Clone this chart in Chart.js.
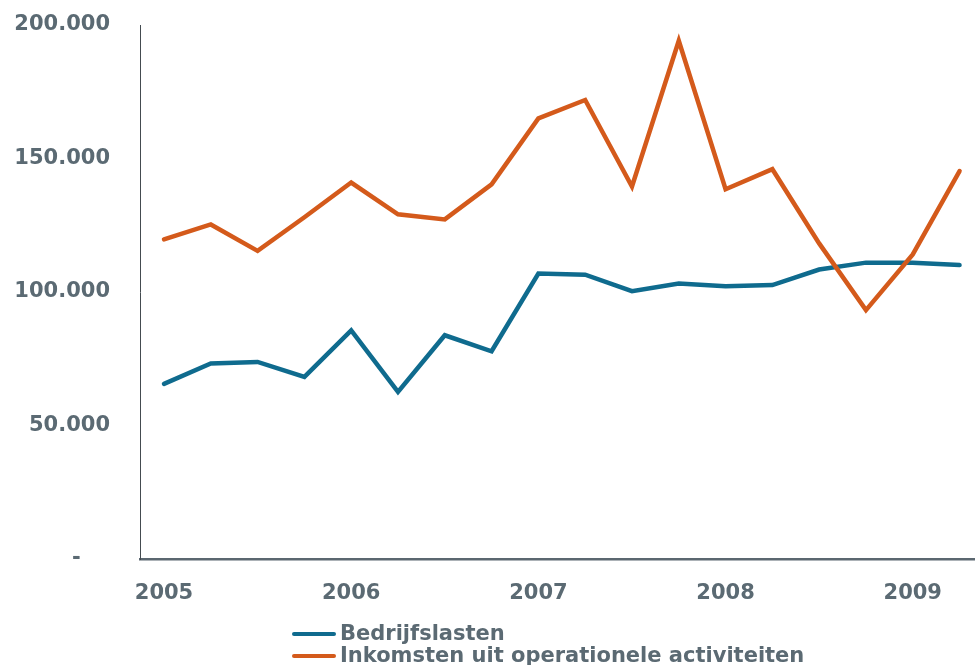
<!DOCTYPE html>
<html>
<head>
<meta charset="utf-8">
<script src="https://cdn.jsdelivr.net/npm/chart.js@4.4.1/dist/chart.umd.min.js"></script>
<style>
  html, body { margin: 0; padding: 0; background: #ffffff; }
  canvas { display: block; }
</style>
</head>
<body>
<canvas id="chart" width="975" height="665"></canvas>
<script>
// Quarterly figures, 2005 Q1 – 2009 Q2
const quarters = [
  '2005 K1', '2005 K2', '2005 K3', '2005 K4',
  '2006 K1', '2006 K2', '2006 K3', '2006 K4',
  '2007 K1', '2007 K2', '2007 K3', '2007 K4',
  '2008 K1', '2008 K2', '2008 K3', '2008 K4',
  '2009 K1', '2009 K2'
];
const yearLabels = ['2005', '2006', '2007', '2008', '2009'];
const seriesNames = ['Bedrijfslasten', 'Inkomsten uit operationele activiteiten'];

const bedrijfslasten = [
  65600, 73200, 73800, 68200,
  85600, 62600, 83800, 77800,
  106900, 106500, 100300, 103200,
  102200, 102600, 108400, 111000,
  111000, 110100
];
const inkomsten = [
  119700, 125300, 115400, 128000,
  141000, 129100, 127200, 140300,
  165000, 171900, 139500, 194100,
  138500, 146000, 118200, 93200,
  114100, 145300
];
const yTickValues = [0, 50000, 100000, 150000, 200000];

const TEXT_COLOR = '#5b6a73';
const FONT_FAMILY = '"DejaVu Sans", Verdana, sans-serif';

function formatThousands(v) {
  if (v === 0) return '-    ';
  return String(v).replace(/\B(?=(\d{3})+(?!\d))/g, '.');
}

const toPoints = arr => arr.map((v, i) => ({ x: i, y: v }));

// Legend drawn as two stacked rows under the axis
const stackedLegend = {
  id: 'stackedLegend',
  afterDraw(chart, args, opts) {
    const ctx = chart.ctx;
    ctx.save();
    ctx.font = opts.font;
    ctx.textBaseline = 'middle';
    ctx.textAlign = 'left';
    chart.data.datasets.forEach((ds, i) => {
      const y = opts.top + i * opts.rowGap;
      ctx.strokeStyle = ds.borderColor;
      ctx.lineWidth = opts.lineWidth;
      ctx.lineCap = 'round';
      ctx.beginPath();
      ctx.moveTo(opts.left, y);
      ctx.lineTo(opts.left + opts.lineLength, y);
      ctx.stroke();
      ctx.fillStyle = opts.color;
      ctx.fillText(ds.label, opts.left + opts.lineLength + opts.gap, y + 1);
    });
    ctx.restore();
  }
};

new Chart(document.getElementById('chart'), {
  type: 'line',
  data: {
    labels: quarters,
    datasets: [
      {
        label: seriesNames[0],
        data: toPoints(bedrijfslasten),
        borderColor: '#0f6b8e',
        backgroundColor: '#0f6b8e',
        borderWidth: 4.5,
        borderCapStyle: 'round',
        borderJoinStyle: 'miter',
        pointRadius: 0,
        tension: 0,
        order: 1
      },
      {
        label: seriesNames[1],
        data: toPoints(inkomsten),
        borderColor: '#d45a1b',
        backgroundColor: '#d45a1b',
        borderWidth: 4.5,
        borderCapStyle: 'round',
        borderJoinStyle: 'miter',
        pointRadius: 0,
        tension: 0,
        order: 0
      }
    ]
  },
  options: {
    responsive: false,
    animation: false,
    layout: { padding: { top: 25, right: 0, bottom: 62, left: 0 } },
    plugins: {
      legend: { display: false },
      tooltip: { enabled: false },
      stackedLegend: {
        left: 294,
        top: 634,
        rowGap: 22,
        lineLength: 40,
        lineWidth: 4,
        gap: 6,
        font: 'bold 21px ' + FONT_FAMILY,
        color: TEXT_COLOR
      }
    },
    scales: {
      x: {
        type: 'linear',
        min: -0.513,
        max: 17.33,
        grid: { display: false, drawTicks: false },
        border: { display: true, color: '#5b6770', width: 2.5 },
        afterBuildTicks: scale => {
          scale.ticks = yearLabels.map((_, i) => ({ value: i * 4 }));
        },
        afterFit: scale => {
          scale.height = 44;
          scale.paddingLeft = 0;
          scale.paddingRight = 0;
        },
        ticks: {
          autoSkip: false,
          maxRotation: 0,
          padding: 22,
          color: TEXT_COLOR,
          font: { family: FONT_FAMILY, size: 21, weight: 'bold' },
          callback: v => yearLabels[v / 4]
        }
      },
      y: {
        min: 0,
        max: 200000,
        grid: { display: false, drawTicks: false },
        border: { display: true, color: '#444b50', width: 1 },
        afterBuildTicks: scale => {
          scale.ticks = yTickValues.map(v => ({ value: v }));
        },
        afterFit: scale => {
          scale.width = 140;
          scale.paddingTop = 0;
          scale.paddingBottom = 0;
        },
        ticks: {
          padding: 30,
          color: TEXT_COLOR,
          font: { family: FONT_FAMILY, size: 21, weight: 'bold' },
          callback: v => formatThousands(v)
        }
      }
    }
  },
  plugins: [stackedLegend]
});
</script>
</body>
</html>
